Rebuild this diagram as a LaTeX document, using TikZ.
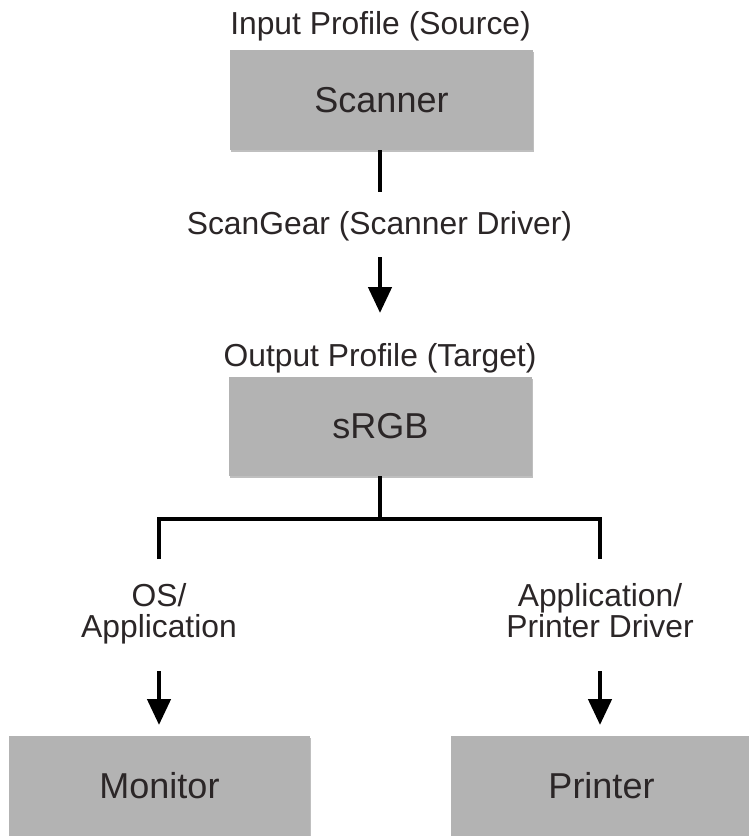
\documentclass[tikz,border=0pt]{standalone}
\usepackage{fontspec}
\setmainfont{Liberation Sans}
\usetikzlibrary{arrows.meta,shadows}
\definecolor{boxgray}{HTML}{B3B3B3}
\definecolor{txt}{HTML}{2B2627}
\begin{document}
\begin{tikzpicture}[x=1pt,y=-1pt,
  box/.style={fill=boxgray, draw=none, inner sep=0pt, text=txt,
    font=\fontsize{36}{40}\selectfont,
    drop shadow={shadow xshift=1.2pt, shadow yshift=-1.6pt, fill=black, opacity=0.25}},
  lbl/.style={inner sep=0pt, text=txt, font=\fontsize{31.8}{31}\selectfont, align=center},
  conn/.style={line width=4.6pt, draw=black, line join=miter},
  arr/.style={conn, -{Triangle[width=23pt,length=26pt]}}]
\clip (0,0) rectangle (749,836);
\fill[white] (0,0) rectangle (749,836);

% boxes
\node[box, minimum width=303pt, minimum height=100pt] (scanner) at (381.5,100) {Scanner};
\node[box, minimum width=303pt, minimum height=99pt] (srgb) at (380.5,426.5) {sRGB};
\node[box, minimum width=301pt, minimum height=100pt] (monitor) at (159.5,786) {Monitor};
\node[box, minimum width=301pt, minimum height=100pt] (printer) at (601.5,786) {Printer};

% labels
\node[lbl, anchor=base] (inlbl) at (380.5,34) {Input Profile (Source)};
\node[lbl, anchor=base] (sglbl) at (379.5,234) {ScanGear (Scanner Driver)};
\node[lbl, anchor=base] (outlbl) at (380,366) {Output Profile (Target)};
\node[lbl] (oslbl) at (159,613.4) {OS/\\Application};
\node[lbl] (pdlbl) at (600,610.2) {Application/\\Printer Driver};

% coordinates
\coordinate (c1) at (380,192);
\coordinate (c2) at (380,257);
\coordinate (c3) at (380,313);
\coordinate (j) at (380,519);
\coordinate (l0) at (159,519);
\coordinate (r0) at (600,519);
\coordinate (l1) at (159,559);
\coordinate (r1) at (600,559);
\coordinate (l2) at (159,671);
\coordinate (l3) at (159,725);
\coordinate (r2) at (600,671);
\coordinate (r3) at (600,725);

% connectors
\draw[conn] (scanner.south -| c1) -- (c1);
\draw[arr] (c2) -- (c3);
\draw[conn] (srgb.south -| j) -- (j);
\draw[conn] (l1) -- (l0) -- (r0) -- (r1);
\draw[arr] (l2) -- (l3);
\draw[arr] (r2) -- (r3);
\end{tikzpicture}
\end{document}
